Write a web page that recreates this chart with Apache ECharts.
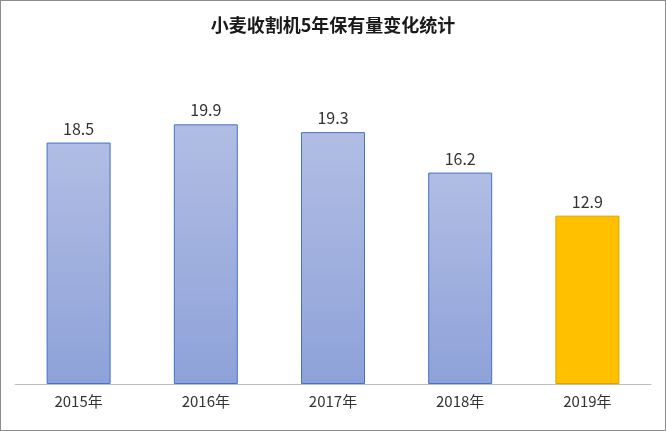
<!DOCTYPE html><html><head><meta charset="utf-8">
<script src="https://cdn.jsdelivr.net/npm/echarts@6/dist/echarts.min.js"></script>
<style>html,body{margin:0;padding:0;background:#fff}#c{width:666px;height:431px;box-sizing:border-box;border:1px solid #8c8c8c}</style>
</head><body><div id="c"></div><script>
const categories=['2015年','2016年','2017年','2018年','2019年'];
const values=[18.5,19.9,19.3,16.2,12.9];
const highlight=[false,false,false,false,true];
const chart=echarts.init(document.getElementById('c'));
const blue={type:'linear',x:0,y:0,x2:0,y2:1,colorStops:[{offset:0,color:'#b1bde3'},{offset:1,color:'#8ea2d9'}]};
chart.setOption({
 animation:false,
 title:{text:'小麦收割机5年保有量变化统计',left:'center',top:10,textStyle:{fontFamily:'Noto Sans CJK SC',fontSize:18,fontWeight:'bold',color:'#1a1a1a'}},
 grid:{left:14,right:14,top:122,bottom:46},
 xAxis:{type:'category',data:categories,axisTick:{show:false},axisLine:{lineStyle:{color:'#bfbfbf'}},axisLabel:{fontFamily:'Noto Sans CJK SC',fontSize:15,color:'#333',margin:10}},
 yAxis:{type:'value',min:0,max:20,show:false,splitLine:{show:false}},
 series:[{type:'bar',barWidth:64,
  data:values.map((v,i)=>({value:v,itemStyle:highlight[i]?{color:'#ffc000',borderColor:'#e0a000',borderWidth:1}:{color:blue,borderColor:'#4472c4',borderWidth:1}})),
  label:{show:true,position:'top',distance:6,fontFamily:'Noto Sans CJK SC',fontSize:16,color:'#333'}}]
});
</script></body></html>
